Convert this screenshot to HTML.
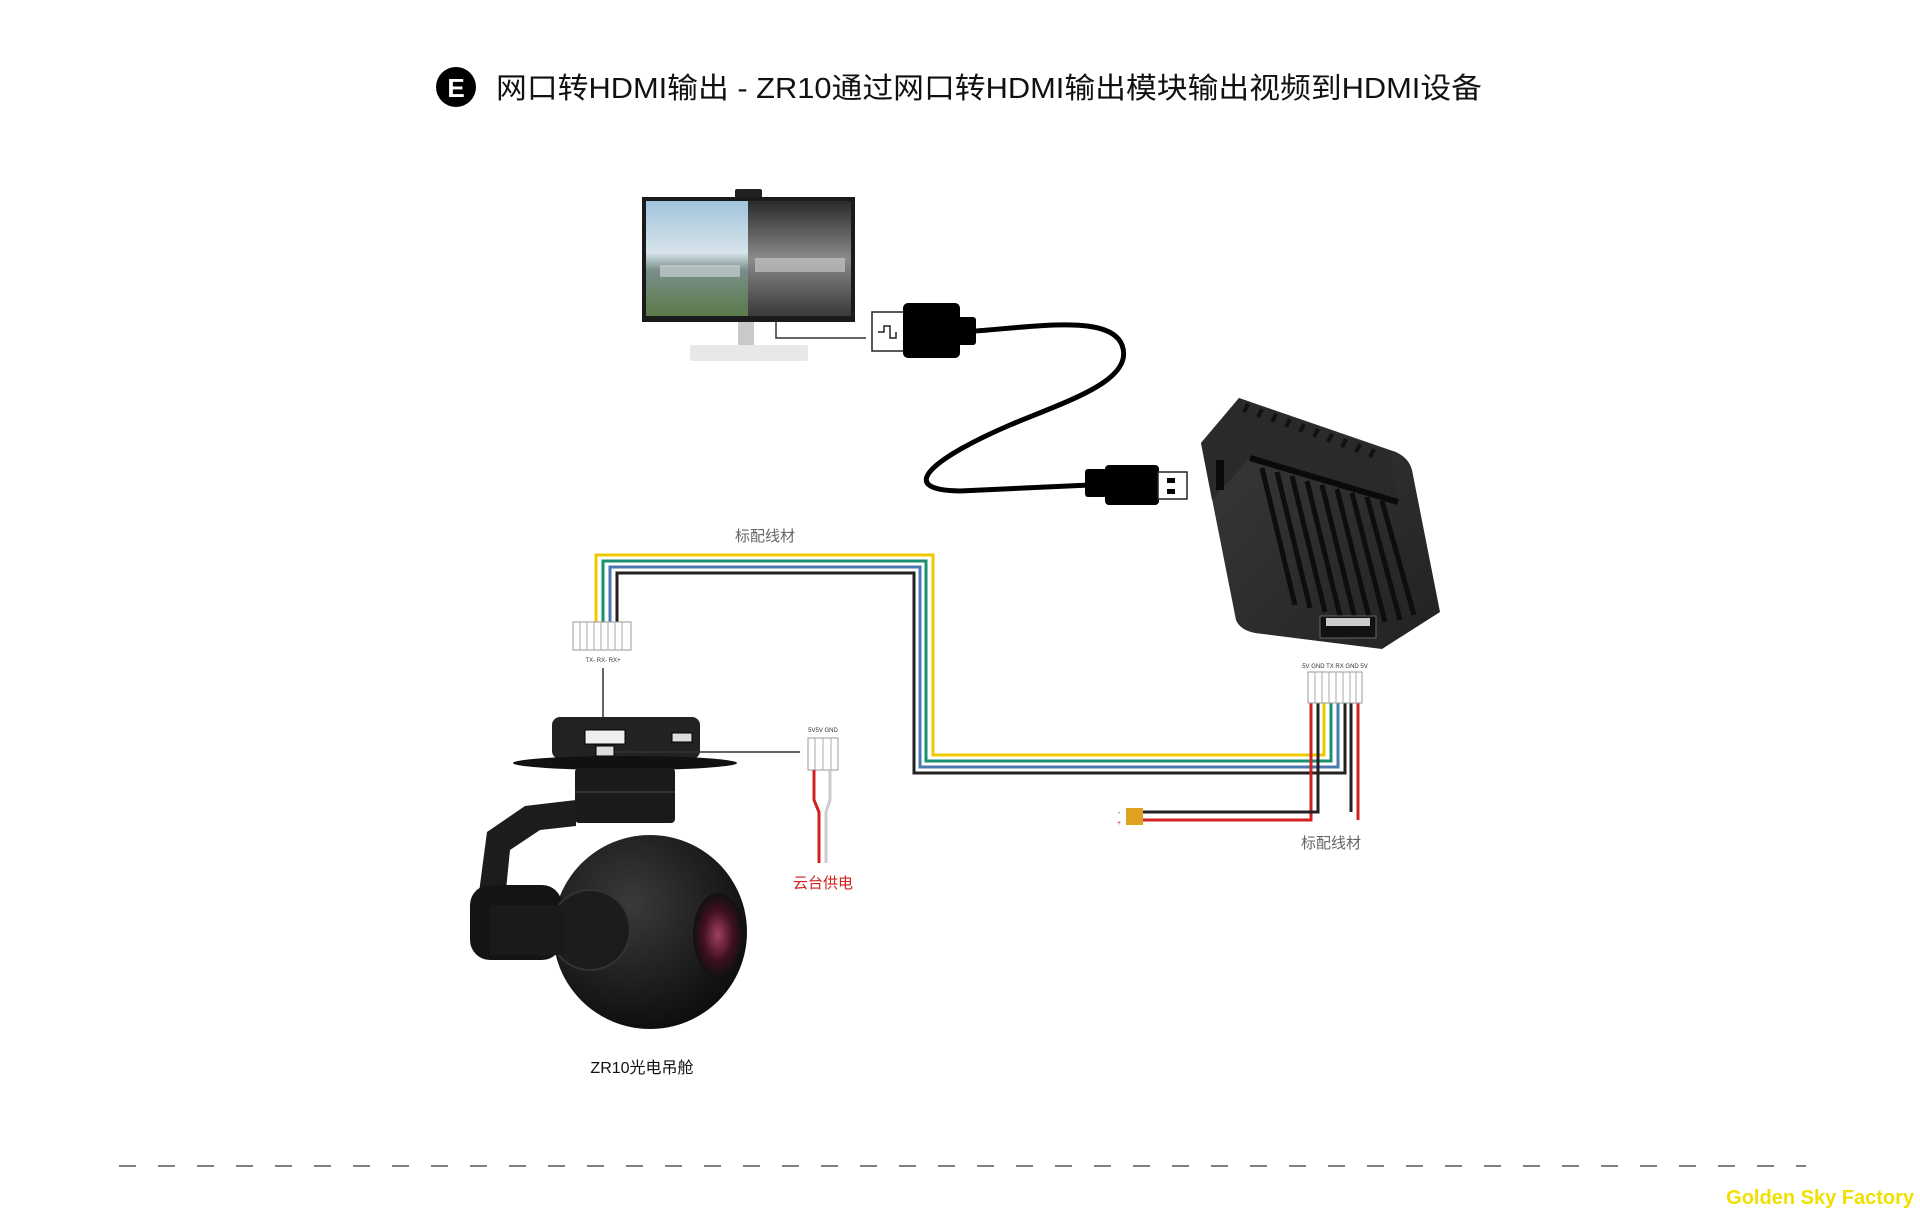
<!DOCTYPE html>
<html><head><meta charset="utf-8"><style>
html,body{margin:0;padding:0;background:#fff;}
svg{display:block;}
text{font-family:"Liberation Sans","Noto Sans CJK SC",sans-serif;}
</style></head><body>
<svg width="1920" height="1230" viewBox="0 0 1920 1230" xmlns="http://www.w3.org/2000/svg">
<defs>
<linearGradient id="sky" x1="0" y1="0" x2="0" y2="1"><stop offset="0" stop-color="#9fc3dc"/><stop offset="0.45" stop-color="#d7e4ea"/><stop offset="0.6" stop-color="#7a8f8a"/><stop offset="1" stop-color="#5c7a4a"/></linearGradient>
<linearGradient id="gray" x1="0" y1="0" x2="0" y2="1"><stop offset="0" stop-color="#2a2a2a"/><stop offset="0.5" stop-color="#8a8a8a"/><stop offset="1" stop-color="#3a3a3a"/></linearGradient>
<radialGradient id="ball" cx="0.4" cy="0.35" r="0.7"><stop offset="0" stop-color="#3a3a3a"/><stop offset="1" stop-color="#0c0c0c"/></radialGradient>
<radialGradient id="lens" cx="0.5" cy="0.5" r="0.5"><stop offset="0" stop-color="#a04060"/><stop offset="0.6" stop-color="#401020"/><stop offset="1" stop-color="#111"/></radialGradient>
<linearGradient id="box" x1="0" y1="0" x2="1" y2="1"><stop offset="0" stop-color="#3a3a3a"/><stop offset="1" stop-color="#222"/></linearGradient>
</defs>

<!-- Title -->
<circle cx="456" cy="87" r="20" fill="#000"/>
<text x="456" y="97" font-size="26" fill="#fff" text-anchor="middle" font-weight="bold">E</text>
<text x="496" y="98" font-size="29" fill="#111" textLength="986" lengthAdjust="spacingAndGlyphs">网口转HDMI输出 - ZR10通过网口转HDMI输出模块输出视频到HDMI设备</text>

<!-- Monitor -->
<rect x="735" y="189" width="27" height="12" rx="2" fill="#222"/>
<rect x="642" y="197" width="213" height="125" fill="#1a1a1a"/>
<rect x="646" y="201" width="102" height="115" fill="url(#sky)"/>
<rect x="748" y="201" width="103" height="115" fill="url(#gray)"/>
<rect x="660" y="265" width="80" height="12" fill="#c8d0d4" opacity="0.7"/>
<rect x="755" y="258" width="90" height="14" fill="#d0d0d0" opacity="0.6"/>
<rect x="738" y="322" width="16" height="24" fill="#c9c9c9"/>
<rect x="690" y="345" width="118" height="16" rx="2" fill="#e8e8e8"/>
<polyline points="776,322 776,338 866,338" fill="none" stroke="#333" stroke-width="1.5"/>

<!-- HDMI plug -->
<rect x="872" y="312" width="32" height="39" fill="#fff" stroke="#222" stroke-width="1.5"/>
<path d="M878 332 h6 v-6 h6 v12 h6 v-6" fill="none" stroke="#222" stroke-width="1.5"/>
<rect x="903" y="303" width="57" height="55" rx="5" fill="#000"/>
<rect x="958" y="317" width="18" height="28" rx="3" fill="#000"/>
<path d="M976 331 C1040 326 1110 315 1122 345 C1135 380 1070 400 1010 425 C940 455 890 490 960 491 L1090 485" fill="none" stroke="#000" stroke-width="5"/>
<!-- USB plug -->
<rect x="1085" y="469" width="22" height="28" rx="3" fill="#000"/>
<rect x="1105" y="465" width="54" height="40" rx="4" fill="#000"/>
<rect x="1158" y="472" width="29" height="27" fill="#fff" stroke="#222" stroke-width="1.5"/>
<rect x="1167" y="478" width="8" height="5" fill="#000"/><rect x="1167" y="489" width="8" height="5" fill="#000"/>

<!-- Module -->
<path d="M1239,398 L1201,443 L1236,620 Q1240,630 1255,633 L1382,649 L1440,612 L1412,470 Q1408,455 1390,450 Z" fill="url(#box)"/>
<polygon points="1239,398 1201,443 1212,500 1250,458 1398,502 1390,452" fill="#2a2a2a"/>
<g stroke="#111" stroke-width="4">
<line x1="1248" y1="404" x2="1244" y2="412"/><line x1="1262" y1="409" x2="1258" y2="417"/><line x1="1276" y1="414" x2="1272" y2="422"/><line x1="1290" y1="419" x2="1286" y2="427"/><line x1="1304" y1="424" x2="1300" y2="432"/><line x1="1318" y1="429" x2="1314" y2="437"/><line x1="1332" y1="434" x2="1328" y2="442"/><line x1="1346" y1="439" x2="1342" y2="447"/><line x1="1360" y1="444" x2="1356" y2="452"/><line x1="1374" y1="449" x2="1370" y2="457"/>
</g>
<path d="M1250,458 L1398,502" stroke="#0a0a0a" stroke-width="6"/>
<g stroke="#0d0d0d" stroke-width="5">
<line x1="1262" y1="468" x2="1295" y2="605"/><line x1="1277" y1="472" x2="1310" y2="608"/><line x1="1292" y1="476" x2="1325" y2="612"/><line x1="1307" y1="481" x2="1340" y2="616"/><line x1="1322" y1="485" x2="1355" y2="619"/><line x1="1337" y1="489" x2="1370" y2="621"/><line x1="1352" y1="493" x2="1385" y2="622"/><line x1="1367" y1="497" x2="1400" y2="620"/><line x1="1382" y1="501" x2="1414" y2="615"/>
</g>
<rect x="1216" y="460" width="8" height="30" fill="#0a0a0a"/>
<rect x="1320" y="616" width="56" height="22" fill="#111" stroke="#666" stroke-width="1"/>
<rect x="1326" y="618" width="44" height="8" fill="#ccc"/>

<!-- wire harness -->
<text x="765" y="541" font-size="15" fill="#666" text-anchor="middle">标配线材</text>
<g fill="none" stroke-width="3">
<polyline points="596,625 596,555 933,555 933,755 1324,755 1324,700" stroke="#f0c800"/>
<polyline points="603,625 603,561 926,561 926,761 1331,761 1331,700" stroke="#1a9070"/>
<polyline points="610,625 610,567 920,567 920,767 1338,767 1338,700" stroke="#4a78b0"/>
<polyline points="617,625 617,573 914,573 914,773 1345,773 1345,700" stroke="#222"/>
<polyline points="1311,700 1311,820 1138,820" stroke="#d02020"/>
<polyline points="1358,700 1358,820" stroke="#d02020"/>
<polyline points="1318,700 1318,812 1138,812" stroke="#222"/>
<polyline points="1351,700 1351,812" stroke="#222"/>
</g>
<!-- left connector -->
<rect x="573" y="622" width="58" height="28" fill="#fff" stroke="#999"/>
<g stroke="#aaa"><line x1="580" y1="622" x2="580" y2="650"/><line x1="587" y1="622" x2="587" y2="650"/><line x1="594" y1="622" x2="594" y2="650"/><line x1="601" y1="622" x2="601" y2="650"/><line x1="608" y1="622" x2="608" y2="650"/><line x1="615" y1="622" x2="615" y2="650"/><line x1="622" y1="622" x2="622" y2="650"/></g>
<text x="603" y="662" font-size="6" fill="#333" text-anchor="middle">TX- RX- RX+</text>
<line x1="603" y1="668" x2="603" y2="735" stroke="#333" stroke-width="1.5"/>
<!-- right connector -->
<rect x="1308" y="672" width="54" height="31" fill="#fff" stroke="#999"/>
<g stroke="#aaa"><line x1="1315" y1="672" x2="1315" y2="703"/><line x1="1322" y1="672" x2="1322" y2="703"/><line x1="1329" y1="672" x2="1329" y2="703"/><line x1="1336" y1="672" x2="1336" y2="703"/><line x1="1343" y1="672" x2="1343" y2="703"/><line x1="1350" y1="672" x2="1350" y2="703"/><line x1="1356" y1="672" x2="1356" y2="703"/></g>
<text x="1335" y="668" font-size="6" fill="#333" text-anchor="middle">5V GND TX RX GND 5V</text>
<rect x="1126" y="808" width="17" height="17" fill="#e0a020"/>
<text x="1118" y="815" font-size="7" fill="#333">-</text><text x="1117" y="825" font-size="7" fill="#d02020">+</text>
<text x="1331" y="848" font-size="15" fill="#666" text-anchor="middle">标配线材</text>

<!-- Gimbal -->
<rect x="552" y="717" width="148" height="42" rx="8" fill="#222"/>
<rect x="585" y="730" width="40" height="14" fill="#eee" stroke="#000"/>
<rect x="672" y="733" width="20" height="9" fill="#ddd" stroke="#000"/>
<rect x="596" y="746" width="18" height="10" fill="#ddd" stroke="#000"/>
<line x1="614" y1="752" x2="800" y2="752" stroke="#333" stroke-width="1.5"/>
<ellipse cx="625" cy="763" rx="112" ry="7" fill="#111"/>
<rect x="575" y="768" width="100" height="55" rx="4" fill="#1a1a1a"/>
<line x1="575" y1="792" x2="675" y2="792" stroke="#333" stroke-width="2"/>
<path d="M576,800 L525,806 L487,832 L478,900 L505,900 L510,850 L540,830 L576,826 Z" fill="#1c1c1c"/>
<circle cx="650" cy="932" r="97" fill="url(#ball)"/>
<rect x="470" y="885" width="92" height="75" rx="20" fill="#141414"/>
<circle cx="590" cy="930" r="40" fill="#1c1c1c" stroke="#333" stroke-width="2"/>
<rect x="490" y="905" width="75" height="50" fill="#1a1a1a"/>
<ellipse cx="718" cy="935" rx="25" ry="42" fill="url(#lens)"/>
<text x="642" y="1073" font-size="16" fill="#111" text-anchor="middle">ZR10光电吊舱</text>
<!-- power connector -->
<rect x="808" y="738" width="30" height="32" fill="#fff" stroke="#999"/>
<g stroke="#aaa"><line x1="815" y1="738" x2="815" y2="770"/><line x1="823" y1="738" x2="823" y2="770"/><line x1="831" y1="738" x2="831" y2="770"/></g>
<text x="823" y="732" font-size="6" fill="#333" text-anchor="middle">5V5V GND</text>
<path d="M814 770 V800 L819 812 V863" fill="none" stroke="#d02020" stroke-width="3"/>
<path d="M830 770 V800 L826 812 V863" fill="none" stroke="#ccc" stroke-width="3"/>
<text x="823" y="888" font-size="15" fill="#d02020" text-anchor="middle">云台供电</text>

<!-- dashed -->
<line x1="119" y1="1166" x2="1806" y2="1166" stroke="#555" stroke-width="1.5" stroke-dasharray="17 22"/>
<text x="1914" y="1204" font-size="20" font-weight="bold" fill="#f0e000" text-anchor="end">Golden Sky Factory</text>
</svg>
</body></html>
